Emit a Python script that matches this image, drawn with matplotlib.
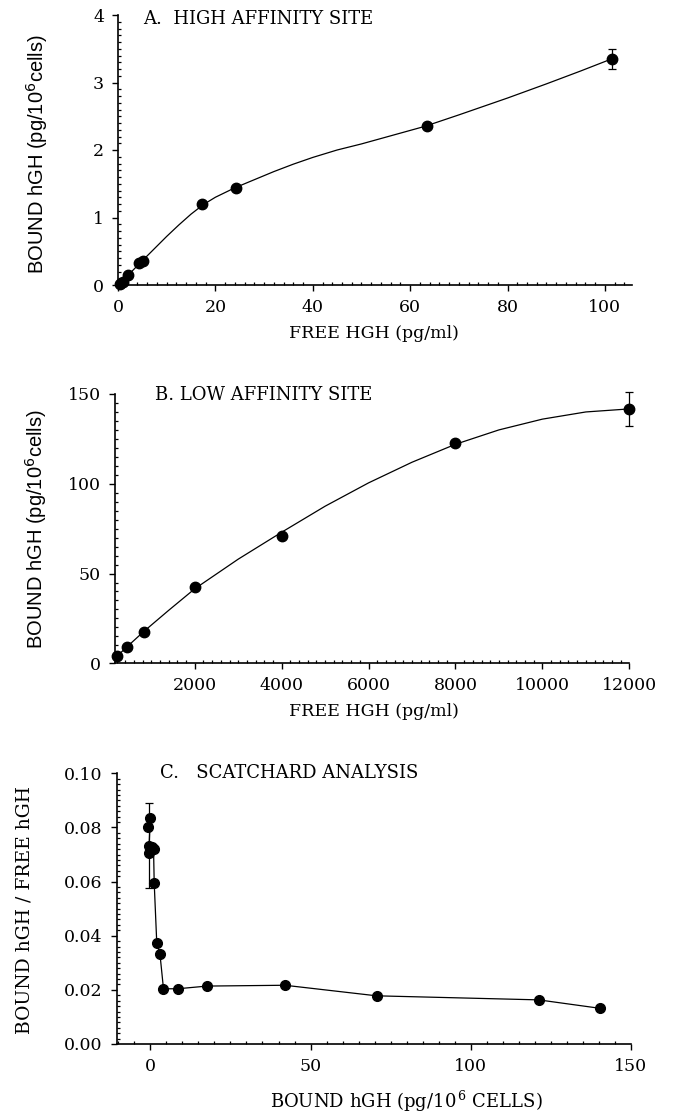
import matplotlib
matplotlib.use("Agg")
import matplotlib.pyplot as plt
from matplotlib.ticker import AutoMinorLocator, FormatStrFormatter, MultipleLocator

# ---- panel A: high affinity site ----
free_a = [0.5, 1.0, 2.1, 4.4, 5.2, 17.2, 24.2, 63.4, 101.4]
bound_a = [0.01, 0.04, 0.15, 0.32, 0.36, 1.20, 1.43, 2.35, 3.35]
err_a = [0, 0, 0, 0, 0, 0, 0, 0, 0.15]
# fitted curve
fit_free_a = [0, 2, 5, 7.5, 10, 12.5, 15, 17.5, 20, 24, 28, 32, 36, 40, 45, 50,
              55, 63, 70, 75, 80, 88, 95, 101.4]
fit_bound_a = [0, 0.14, 0.36, 0.54, 0.72, 0.89, 1.05, 1.19, 1.30, 1.44, 1.56, 1.68,
               1.79, 1.89, 2.0, 2.09, 2.19, 2.35, 2.52, 2.645, 2.77, 2.98, 3.17, 3.35]

# ---- panel B: low affinity site ----
free_b = [214, 433, 831, 2005, 4000, 7990, 12000]
bound_b = [4.1, 8.9, 17.6, 42.3, 71.1, 122.5, 141.7]
err_b = [0, 0, 0, 0, 0, 0, 9.5]
fit_free_b = [200, 433, 831, 1400, 2000, 3000, 4000, 5000, 6000, 7000, 8000,
              9000, 10000, 11000, 12000]
fit_bound_b = [3.7, 9.0, 17.8, 29.5, 41.5, 58.0, 73.0, 87.5, 100.5, 112.0, 122.0,
               130.0, 136.0, 140.0, 141.7]

# ---- panel C: Scatchard analysis ----
bound_c = [-0.8, 0.0, -0.4, -0.4, 0.4, 1.0, 1.2, 2.0, 3.0, 4.1, 8.5, 17.7, 42.0,
           70.6, 121.2, 140.2]
ratio_c = [0.0803, 0.0834, 0.0733, 0.0704, 0.0729, 0.0720, 0.0596, 0.0374, 0.0332,
           0.0204, 0.0204, 0.0214, 0.0217, 0.0178, 0.0163, 0.0132]
err_c = [0, 0, 0.0158, 0, 0, 0, 0, 0, 0, 0, 0, 0, 0, 0, 0, 0]

W, H = 676, 1118
fig = plt.figure(figsize=(W / 100, H / 100), dpi=100)
plt.rcParams['font.family'] = 'DejaVu Serif'

def box(left, right, top, bottom):
    return [left / W, 1 - bottom / H, (right - left) / W, (bottom - top) / H]

def style(ax):
    for s in ('top', 'right'):
        ax.spines[s].set_visible(False)
    for s in ('left', 'bottom'):
        ax.spines[s].set_linewidth(1.2)
    ax.xaxis.set_minor_locator(AutoMinorLocator(10))
    ax.yaxis.set_minor_locator(AutoMinorLocator(10))
    ax.tick_params(which='major', direction='out', length=4, width=1, labelsize=12.5, pad=6)
    ax.tick_params(which='minor', direction='in', length=2.5, width=0.9)

axA = fig.add_axes(box(118, 631.7, 15, 285))
axB = fig.add_axes(box(115, 629.3, 394, 663.3))
axC = fig.add_axes(box(116.7, 631, 773.3, 1044))

# A
axA.plot(fit_free_a, fit_bound_a, color='black', lw=0.9)
axA.errorbar(free_a, bound_a, yerr=err_a, fmt='o', color='black', ms=7.5,
             elinewidth=0.9, capsize=3, capthick=0.9, clip_on=False)
axA.set_xlim(0, 105.5)
axA.set_ylim(0, 4)
axA.set_xticks([0, 20, 40, 60, 80, 100])
axA.set_yticks([0, 1, 2, 3, 4])
style(axA)
axA.text(0.049, 0.985, 'A.  HIGH AFFINITY SITE', transform=axA.transAxes,
         fontsize=13, va='center', ha='left')

# B
axB.plot(fit_free_b, fit_bound_b, color='black', lw=0.9)
axB.errorbar(free_b, bound_b, yerr=err_b, fmt='o', color='black', ms=7.5,
             elinewidth=0.9, capsize=3, capthick=0.9, clip_on=False)
axB.set_xlim(165, 12000)
axB.set_ylim(0, 150)
axB.set_xticks([2000, 4000, 6000, 8000, 10000, 12000])
axB.set_yticks([0, 50, 100, 150])
style(axB)
axB.xaxis.set_minor_locator(MultipleLocator(200))
axB.text(0.078, 0.996, 'B. LOW AFFINITY SITE', transform=axB.transAxes,
         fontsize=13, va='center', ha='left')

# C
axC.plot(bound_c, ratio_c, color='black', lw=0.9)
axC.errorbar(bound_c, ratio_c, yerr=err_c, fmt='o', color='black', ms=7,
             elinewidth=0.9, capsize=3, capthick=0.9, clip_on=False)
axC.set_xlim(-10.5, 150)
axC.set_ylim(0, 0.10)
axC.set_xticks([0, 50, 100, 150])
axC.set_yticks([0, 0.02, 0.04, 0.06, 0.08, 0.10])
axC.yaxis.set_major_formatter(FormatStrFormatter('%.2f'))
style(axC)
axC.xaxis.set_minor_locator(MultipleLocator(5))
axC.text(0.084, 1.0, 'C.   SCATCHARD ANALYSIS', transform=axC.transAxes,
         fontsize=13, va='center', ha='left')

# axis labels
ylab = r'BOUND hGH (pg/10$^{6}$cells)'
fig.text(37 / W, 1 - 154 / H, ylab, rotation=90, ha='center', va='center',
         fontsize=14.5, family='Liberation Sans', math_fontfamily='dejavusans')
fig.text(36 / W, 1 - 529.5 / H, ylab, rotation=90, ha='center', va='center',
         fontsize=14.5, family='Liberation Sans', math_fontfamily='dejavusans')
fig.text(25 / W, 1 - 910 / H, 'BOUND hGH / FREE hGH', rotation=90, ha='center',
         va='center', fontsize=13.5)
fig.text(374 / W, 1 - 333 / H, 'FREE HGH (pg/ml)', ha='center', va='center', fontsize=12.5)
fig.text(374 / W, 1 - 712 / H, 'FREE HGH (pg/ml)', ha='center', va='center', fontsize=12.5)
fig.text(406 / W, 1 - 1101 / H, r'BOUND hGH (pg/10$^{\,6}$ CELLS)', ha='center',
         va='center', fontsize=13, math_fontfamily='dejavuserif')

fig.savefig('out.png', dpi=100)
